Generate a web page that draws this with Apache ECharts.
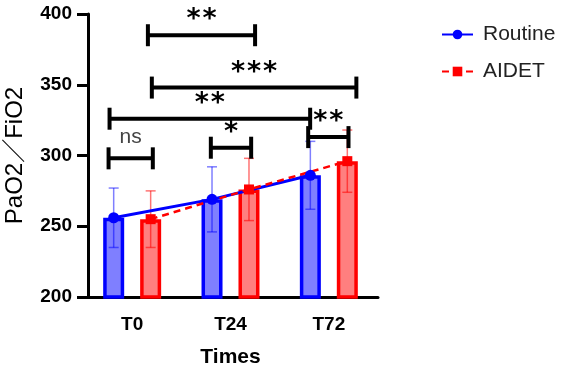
<!DOCTYPE html>
<html>
<head>
<meta charset="utf-8">
<script src="https://cdn.jsdelivr.net/npm/echarts@6/dist/echarts.min.js"></script>
<style>
  html, body { margin: 0; padding: 0; background: #fff; }
  #main { width: 567px; height: 373px; }
</style>
</head>
<body>
<div id="main"></div>
<script>
var categories = ['T0', 'T24', 'T72'];
var routineMean = [256, 269, 286];
var aidetMean = [255, 276, 296];
var routineSD = [21, 23, 24];
var aidetSD = [20, 22, 22];
// 显著性标记: [起点, 终点, 高度, 文字]  (x 为类目坐标, 0~3)
var brackets = [
    [0.66, 1.75, 385, '**'],
    [0.70, 2.78, 348, '***'],
    [0.27, 2.31, 326, '**'],
    [2.29, 2.70, 313, '**'],
    [1.30, 1.71, 305.5, '*'],
    [0.26, 0.71, 298, 'ns']
];

var shift = 0.188;   // 两组柱子相对类目中心的偏移
var font = 'Liberation Sans, Arial, Noto Sans CJK SC, sans-serif';

function points(means, dx) {
    return means.map(function (v, i) { return [i + 0.5 + dx, v]; });
}
function errRows(means, sds, dx) {
    return means.map(function (v, i) { return [i + 0.5 + dx, v, sds[i]]; });
}

function errorBar(color) {
    return function (params, api) {
        var x = api.value(0), m = api.value(1), s = api.value(2);
        var top = api.coord([x, m + s]);
        var bot = api.coord([x, m - s]);
        var st = { stroke: color, lineWidth: 1.5 };
        return {
            type: 'group',
            children: [
                { type: 'line', shape: { x1: top[0], y1: top[1], x2: bot[0], y2: bot[1] }, style: st },
                { type: 'line', shape: { x1: top[0] - 5, y1: top[1], x2: top[0] + 5, y2: top[1] }, style: st },
                { type: 'line', shape: { x1: bot[0] - 5, y1: bot[1], x2: bot[0] + 5, y2: bot[1] }, style: st }
            ]
        };
    };
}

var chart = echarts.init(document.getElementById('main'));

var option = {
    animation: false,
    backgroundColor: '#fff',
    grid: { left: 83, top: 14, width: 295, height: 283, outerBoundsMode: 'none', containLabel: false },
    legend: {
        data: ['Routine', 'AIDET'],
        orient: 'vertical',
        left: 436,
        top: 19,
        itemWidth: 31,
        itemHeight: 12,
        itemGap: 16,
        textStyle: { fontFamily: font, fontSize: 21, color: '#222', padding: [0, 0, 0, 5] }
    },
    xAxis: [{
        type: 'category',
        data: categories,
        name: 'Times',
        nameLocation: 'middle',
        nameGap: 50,
        nameTextStyle: { fontFamily: font, fontSize: 21, fontWeight: 'bold', color: '#000' },
        axisLine: { lineStyle: { color: '#000', width: 3 } },
        axisTick: { alignWithLabel: true, length: 8, lineStyle: { color: '#000', width: 3 } },
        axisLabel: { fontFamily: font, fontSize: 19, fontWeight: 'bold', color: '#000', margin: 18 }
    }, {
        type: 'value',
        min: 0,
        max: 3,
        show: false
    }],
    yAxis: {
        type: 'value',
        min: 200,
        max: 400,
        interval: 50,
        offset: -5,
        name: 'PaO2／FiO2',
        nameLocation: 'middle',
        nameGap: 61,
        nameTextStyle: { fontFamily: font, fontSize: 24, color: '#000' },
        axisLine: { show: true, lineStyle: { color: '#000', width: 3 } },
        axisTick: { show: true, length: 11, lineStyle: { color: '#000', width: 3 } },
        axisLabel: { fontFamily: font, fontSize: 19, fontWeight: 'bold', color: '#000', margin: 16 },
        splitLine: { show: false }
    },
    series: [{
        name: 'Routine bar',
        type: 'bar',
        data: routineMean,
        barWidth: 21,
        barGap: '76%',
        itemStyle: { color: 'rgba(0,0,255,0.5)', borderColor: '#0000ff', borderWidth: 3.5 }
    }, {
        name: 'AIDET bar',
        type: 'bar',
        data: aidetMean,
        barWidth: 21,
        itemStyle: { color: 'rgba(255,0,0,0.5)', borderColor: '#ff0000', borderWidth: 3.5 }
    }, {
        name: 'Routine err',
        type: 'custom',
        xAxisIndex: 1,
        data: errRows(routineMean, routineSD, -shift),
        renderItem: errorBar('rgba(0,0,255,0.5)'),
        z: 3
    }, {
        name: 'AIDET err',
        type: 'custom',
        xAxisIndex: 1,
        data: errRows(aidetMean, aidetSD, shift),
        renderItem: errorBar('rgba(255,0,0,0.55)'),
        z: 3
    }, {
        name: 'Routine',
        type: 'line',
        xAxisIndex: 1,
        data: points(routineMean, -shift),
        color: '#0000ff',
        symbol: 'circle',
        symbolSize: 11,
        lineStyle: { width: 3, color: '#0000ff' },
        itemStyle: { color: '#0000ff' },
        z: 4
    }, {
        name: 'AIDET',
        type: 'line',
        xAxisIndex: 1,
        data: points(aidetMean, shift),
        color: '#ff0000',
        symbol: 'rect',
        symbolSize: 10,
        lineStyle: { width: 2.5, color: '#ff0000', type: [7, 5] },
        itemStyle: { color: '#ff0000' },
        z: 4
    }, {
        name: 'sig',
        type: 'custom',
        xAxisIndex: 1,
        data: brackets,
        z: 5,
        renderItem: function (params, api) {
            var b = brackets[params.dataIndex];
            var p1 = api.coord([b[0], b[2]]);
            var p2 = api.coord([b[1], b[2]]);
            var st = { stroke: '#000', lineWidth: 4 };
            var kids = [
                { type: 'line', shape: { x1: p1[0], y1: p1[1], x2: p2[0], y2: p2[1] }, style: st },
                { type: 'line', shape: { x1: p1[0], y1: p1[1] - 11, x2: p1[0], y2: p1[1] + 11 }, style: st },
                { type: 'line', shape: { x1: p2[0], y1: p2[1] - 11, x2: p2[0], y2: p2[1] + 11 }, style: st }
            ];
            var cx = (p1[0] + p2[0]) / 2;
            if (b[3] === 'ns') {
                kids.push({ type: 'text', x: cx, y: p1[1] - 21,
                    style: { text: 'ns', fontFamily: font, fontSize: 21, fill: '#444', align: 'center', verticalAlign: 'middle' } });
            } else {
                var n = b[3].length;
                for (var k = 0; k < n; k++) {
                    kids.push({ type: 'text', x: cx + (k - (n - 1) / 2) * 16, y: p1[1] - 15,
                        style: { text: '*', fontFamily: 'DejaVu Sans', fontSize: 27, fontWeight: 'bold', fill: '#000', align: 'center', verticalAlign: 'middle' } });
                }
            }
            return { type: 'group', children: kids };
        }
    }]
};

chart.setOption(option);
</script>
</body>
</html>
